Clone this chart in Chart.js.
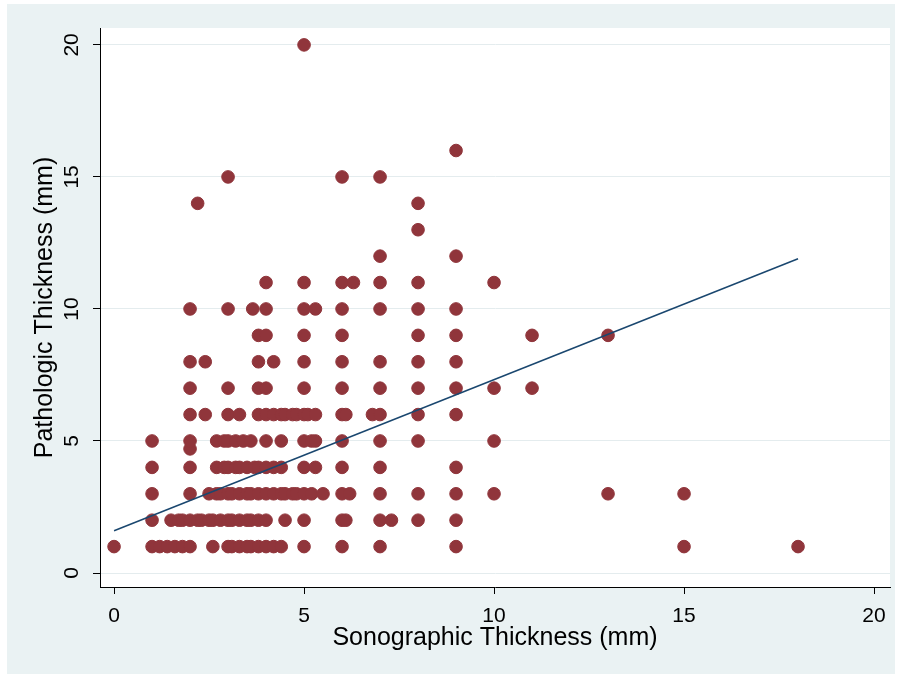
<!DOCTYPE html>
<html>
<head>
<meta charset="utf-8">
<script src="https://cdn.jsdelivr.net/npm/chart.js@4.4.0/dist/chart.umd.min.js"></script>
<style>
  body { margin: 0; background: #fff; }
  canvas { display: block; }
</style>
</head>
<body>
<canvas id="chartScatter" width="902" height="678"></canvas>
<script>
// pathologic thickness levels (mm), and the sonographic values seen at each level
const pathLevels = [1, 2, 3, 4, 4.7, 5, 6, 7, 8, 9, 10, 11, 12, 13, 14, 15, 16, 20];
const sonoAtLevel = [
    [0, 1, 1.2, 1.4, 1.6, 1.8, 2, 2.6, 3, 3.1, 3.3, 3.5, 3.6, 3.8, 4, 4.2, 4.4, 5, 6, 7, 9, 15, 18],
    [1, 1.5, 1.7, 1.8, 2, 2.2, 2.3, 2.5, 2.6, 2.8, 3, 3.1, 3.3, 3.5, 3.6, 3.8, 4, 4.5, 5, 6, 6.1, 7, 7.3, 8, 9],
    [1, 2, 2.5, 2.7, 2.8, 3, 3.1, 3.3, 3.5, 3.6, 3.8, 4, 4.2, 4.4, 4.5, 4.7, 4.8, 5, 5.2, 5.5, 6, 6.2, 7, 8, 9, 10, 13, 15],
    [1, 2, 2.7, 2.9, 3, 3.2, 3.3, 3.5, 3.7, 3.8, 4, 4.2, 4.4, 5, 5.3, 6, 7, 9],
    [2],
    [1, 2, 2.7, 2.9, 3, 3.2, 3.4, 3.6, 4, 4.4, 5, 5.2, 5.3, 6, 7, 8, 10],
    [2, 2.4, 3, 3.3, 3.8, 4, 4.2, 4.4, 4.5, 4.7, 4.8, 5, 5.1, 5.3, 6, 6.1, 6.8, 7, 8, 9],
    [2, 3, 3.8, 4, 5, 6, 7, 8, 9, 10, 11],
    [2, 2.4, 3.8, 4.2, 5, 6, 7, 8, 9],
    [3.8, 4, 5, 6, 8, 9, 11, 13],
    [2, 3, 3.65, 4, 5, 5.3, 6, 7, 8, 9],
    [4, 5, 6, 6.3, 7, 8, 10],
    [7, 9],
    [8],
    [2.2, 8],
    [3, 6, 7],
    [9],
    [5]
];

// fitted line end points
const fitX = [0, 18];
const fitY = [1.6, 11.9];

const axisTicks = [0, 5, 10, 15, 20];

const points = [];
pathLevels.forEach((y, i) => {
    sonoAtLevel[i].forEach(x => points.push({ x: x, y: y }));
});
const fitLine = fitX.map((x, i) => ({ x: x, y: fitY[i] }));

const fontFamily = "'Liberation Sans', Arial, sans-serif";

const backdrop = {
    id: "backdrop",
    beforeDraw(chart) {
        const ctx = chart.ctx;
        const area = chart.chartArea;
        ctx.save();
        ctx.fillStyle = "#ffffff";
        ctx.fillRect(0, 0, chart.width, chart.height);
        ctx.fillStyle = "#eaf2f3";
        ctx.fillRect(7, 4, 888, 670);
        ctx.fillStyle = "#ffffff";
        ctx.fillRect(area.left, area.top, area.right - area.left, area.bottom - area.top);
        ctx.restore();
    },
};

const setTicks = (scale) => {
    scale.ticks = axisTicks.map(v => ({ value: v }));
};

const config = {
    type: "scatter",
    data: {
        datasets: [
            {
                type: "line",
                data: fitLine,
                borderColor: "#1a476f",
                borderWidth: 1.5,
                pointRadius: 0,
                fill: false,
            },
            {
                data: points,
                backgroundColor: "#90353b",
                borderColor: "#90353b",
                borderWidth: 1,
                pointRadius: 6.3,
            },
        ],
    },
    options: {
        responsive: false,
        animation: false,
        layout: { padding: { top: 28, right: 12, left: 0, bottom: 0 } },
        plugins: {
            legend: { display: false },
            tooltip: { enabled: false },
        },
        scales: {
            x: {
                type: "linear",
                min: -0.37,
                max: 20.42,
                afterBuildTicks: setTicks,
                afterFit: (scale) => { scale.height = 91; },
                grid: {
                    drawOnChartArea: false,
                    drawTicks: true,
                    tickLength: 7,
                    tickColor: "#000",
                },
                border: { display: true, color: "#000", width: 1 },
                ticks: {
                    color: "#000",
                    padding: 10,
                    maxRotation: 0,
                    font: { family: fontFamily, size: 21 },
                },
                title: {
                    display: true,
                    text: "Sonographic Thickness (mm)",
                    color: "#000",
                    font: { family: fontFamily, size: 25 },
                    padding: { top: 0, bottom: 25 },
                },
            },
            y: {
                type: "linear",
                min: -0.53,
                max: 20.64,
                afterBuildTicks: setTicks,
                afterFit: (scale) => { scale.width = 100; },
                grid: {
                    color: "#e4ecee",
                    lineWidth: 1,
                    drawTicks: true,
                    tickLength: 7,
                    tickColor: "#000",
                },
                border: { display: true, color: "#000", width: 1 },
                ticks: {
                    color: "#000",
                    padding: 9,
                    minRotation: 90,
                    maxRotation: 90,
                    crossAlign: "center",
                    font: { family: fontFamily, size: 21 },
                },
                title: {
                    display: true,
                    text: "Pathologic Thickness (mm)",
                    color: "#000",
                    font: { family: fontFamily, size: 25 },
                    padding: { top: 30, bottom: 0 },
                },
            },
        },
    },
    plugins: [backdrop],
};

new Chart(document.getElementById("chartScatter"), config);
</script>
</body>
</html>
